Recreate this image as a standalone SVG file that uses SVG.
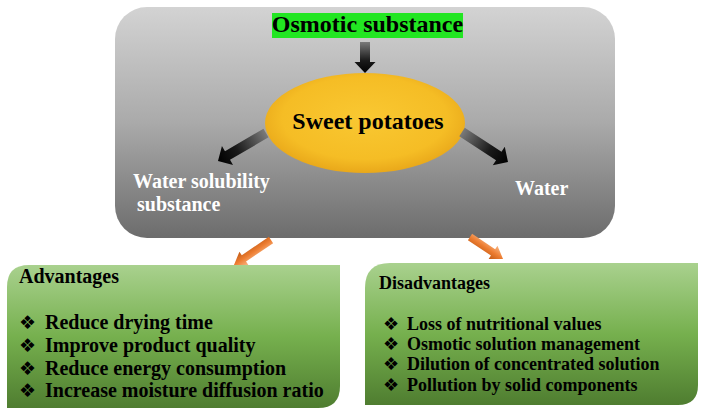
<svg xmlns="http://www.w3.org/2000/svg" width="702" height="416" viewBox="0 0 702 416">
<defs>
<linearGradient id="grey" x1="0" y1="0" x2="0" y2="1">
<stop offset="0" stop-color="#d3d3d3"/>
<stop offset="0.5" stop-color="#aaaaaa"/>
<stop offset="1" stop-color="#6c6c6c"/>
</linearGradient>
<linearGradient id="green" x1="0" y1="0" x2="0" y2="1">
<stop offset="0" stop-color="#a9d18e"/>
<stop offset="0.5" stop-color="#76b04e"/>
<stop offset="1" stop-color="#4f7d30"/>
</linearGradient>
<radialGradient id="yellow" cx="0.5" cy="0.45" r="0.55">
<stop offset="0" stop-color="#f9c832"/>
<stop offset="0.75" stop-color="#f5bd25"/>
<stop offset="1" stop-color="#e9a81a"/>
</radialGradient>
<linearGradient id="blk" x1="0" y1="0" x2="1" y2="0">
<stop offset="0" stop-color="#7a7a7a"/>
<stop offset="0.6" stop-color="#1a1a1a"/>
<stop offset="1" stop-color="#000000"/>
</linearGradient>
<linearGradient id="org" x1="0" y1="0" x2="0" y2="1">
<stop offset="0" stop-color="#f8b684"/>
<stop offset="0.5" stop-color="#ed7d31"/>
<stop offset="1" stop-color="#c25a14"/>
</linearGradient>
<style>
.t{font-family:"Liberation Serif","Times New Roman",serif;font-weight:bold;fill:#000}
.w{font-family:"Liberation Serif","Times New Roman",serif;font-weight:bold;fill:#fff;font-size:20px}
.b{font-family:"DejaVu Sans",sans-serif;fill:#000}
.ba{fill:url(#blk)}
.oa{fill:url(#org)}
</style>
</defs>
<g id="process">
<rect x="115" y="7" width="500" height="231" rx="32" ry="32" fill="url(#grey)"/>
<text class="w" x="133" y="188">Water solubility</text>
<text class="w" x="137" y="211">substance</text>
<text class="w" x="515" y="195">Water</text>
</g>
<g id="osmotic">
<rect x="272" y="13" width="191" height="25" fill="#22e622"/>
<text class="t" x="367.5" y="32" font-size="24" text-anchor="middle">Osmotic substance</text>
</g>
<g id="sweet-potatoes">
<ellipse cx="365" cy="123" rx="100" ry="50" fill="url(#yellow)"/>
<text class="t" x="368" y="129" font-size="24" text-anchor="middle">Sweet potatoes</text>
</g>
<g id="connectors">
<path class="ba" transform="translate(365,42) rotate(90)" d="M0,-5 L20,-5 L20,-10.5 L31,0 L20,10.5 L20,5 L0,5 Z"/>
<path class="ba" transform="translate(266,133) rotate(149.7)" d="M0,-5 L44.6,-5 L44.6,-11 L55.6,0 L44.6,11 L44.6,5 L0,5 Z"/>
<path class="ba" transform="translate(462,132) rotate(33.1)" d="M0,-5 L43.9,-5 L43.9,-11 L54.9,0 L43.9,11 L43.9,5 L0,5 Z"/>
<path class="oa" transform="translate(271,240) rotate(145.95)" d="M0,-3.8 L32.7,-3.8 L32.7,-8 L44.7,0 L32.7,8 L32.7,3.8 L0,3.8 Z"/>
<path class="oa" transform="translate(470,237) rotate(33.7)" d="M0,-3.8 L27.7,-3.8 L27.7,-8 L39.7,0 L27.7,8 L27.7,3.8 L0,3.8 Z"/>
</g>
<g id="advantages">
<path d="M29,265 L340,265 L340,386 Q340,408 318,408 L7,408 L7,287 Q7,265 29,265 Z" fill="url(#green)"/>
<text class="t" x="19" y="283" font-size="20">Advantages</text>
<text class="b" x="19" y="329" font-size="19">❖</text>
<text class="b" x="19" y="352" font-size="19">❖</text>
<text class="b" x="19" y="375" font-size="19">❖</text>
<text class="b" x="19" y="397" font-size="19">❖</text>
<text class="t" x="45" y="329" font-size="20">Reduce drying time</text>
<text class="t" x="45" y="352" font-size="20">Improve product quality</text>
<text class="t" x="45" y="375" font-size="20">Reduce energy consumption</text>
<text class="t" x="45" y="397" font-size="20">Increase moisture diffusion ratio</text>
</g>
<g id="disadvantages">
<path d="M390,263 L698,263 L698,385 Q698,405 678,405 L365,405 L365,288 Q365,263 390,263 Z" fill="url(#green)"/>
<text class="t" x="379" y="289" font-size="18">Disadvantages</text>
<text class="b" x="383" y="330" font-size="18">❖</text>
<text class="b" x="383" y="350" font-size="18">❖</text>
<text class="b" x="383" y="370" font-size="18">❖</text>
<text class="b" x="383" y="391" font-size="18">❖</text>
<text class="t" x="407" y="330" font-size="18">Loss of nutritional values</text>
<text class="t" x="407" y="350" font-size="18">Osmotic solution management</text>
<text class="t" x="407" y="370" font-size="18">Dilution of concentrated solution</text>
<text class="t" x="407" y="391" font-size="18">Pollution by solid components</text>
</g>
</svg>
